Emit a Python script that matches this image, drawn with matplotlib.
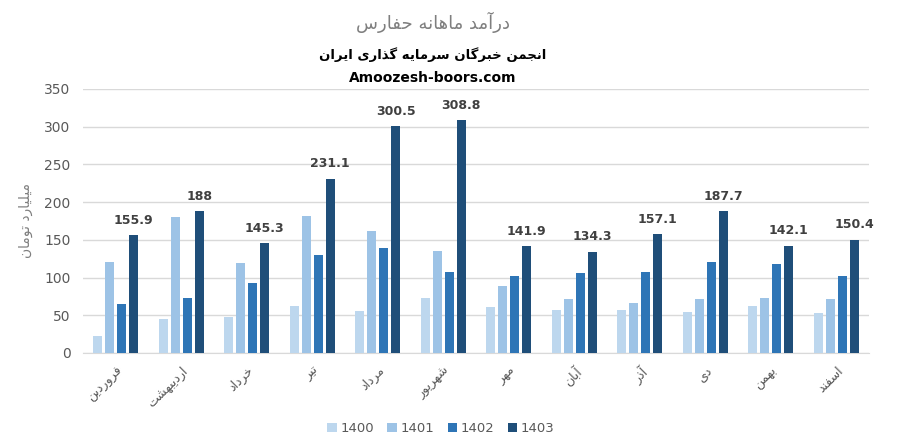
import matplotlib
matplotlib.use('Agg')
import matplotlib.pyplot as plt
import numpy as np

months = ['فروردین', 'اردیبهشت', 'خرداد', 'تیر', 'مرداد', 'شهریور',
          'مهر', 'آبان', 'آذر', 'دی', 'بهمن', 'اسفند']
years = ['1400', '1401', '1402', '1403']
v1400 = [23, 45, 48, 62, 56, 73, 61, 57, 57, 54, 62, 53]
v1401 = [120, 180, 119, 182, 162, 135, 89, 72, 66, 72, 73, 72]
v1402 = [65, 73, 93, 130, 139, 107, 102, 106, 107, 121, 118, 102]
v1403 = [155.9, 188, 145.3, 231.1, 300.5, 308.8, 141.9, 134.3, 157.1, 187.7, 142.1, 150.4]

title1 = 'درآمد ماهانه حفارس'
title2 = 'انجمن خبرگان سرمایه گذاری ایران'
title3 = 'Amoozesh-boors.com'
ylab = 'میلیارد تومان'

mycolors = ['#BDD7EE', '#9DC3E6', '#2E75B6', '#1F4E79']

# minimal arabic/persian shaping: (isolated, final, initial, medial)
forms = {
    'ا': (0xFE8D, 0xFE8E), 'آ': (0xFE81, 0xFE82),
    'ب': (0xFE8F, 0xFE90, 0xFE91, 0xFE92), 'پ': (0xFB56, 0xFB57, 0xFB58, 0xFB59),
    'ت': (0xFE95, 0xFE96, 0xFE97, 0xFE98), 'ج': (0xFE9D, 0xFE9E, 0xFE9F, 0xFEA0),
    'ح': (0xFEA1, 0xFEA2, 0xFEA3, 0xFEA4), 'خ': (0xFEA5, 0xFEA6, 0xFEA7, 0xFEA8),
    'د': (0xFEA9, 0xFEAA), 'ذ': (0xFEAB, 0xFEAC), 'ر': (0xFEAD, 0xFEAE),
    'ز': (0xFEAF, 0xFEB0), 'س': (0xFEB1, 0xFEB2, 0xFEB3, 0xFEB4),
    'ش': (0xFEB5, 0xFEB6, 0xFEB7, 0xFEB8), 'ف': (0xFED1, 0xFED2, 0xFED3, 0xFED4),
    'گ': (0xFB92, 0xFB93, 0xFB94, 0xFB95), 'ک': (0xFB8E, 0xFB8F, 0xFB90, 0xFB91),
    'ل': (0xFEDD, 0xFEDE, 0xFEDF, 0xFEE0),
    'م': (0xFEE1, 0xFEE2, 0xFEE3, 0xFEE4), 'ن': (0xFEE5, 0xFEE6, 0xFEE7, 0xFEE8),
    'و': (0xFEED, 0xFEEE), 'ه': (0xFEE9, 0xFEEA, 0xFEEB, 0xFEEC),
    'ی': (0xFBFC, 0xFBFD, 0xFBFE, 0xFBFF),
}


def shape(s):
    out = []
    for i, c in enumerate(s):
        if c not in forms:
            out.append(c)
            continue
        prev = s[i - 1] if i > 0 else ''
        nxt = s[i + 1] if i + 1 < len(s) else ''
        jp = prev in forms and len(forms[prev]) == 4
        jn = len(forms[c]) == 4 and nxt in forms
        f = forms[c]
        if jp and jn:
            g = f[3]
        elif jp:
            g = f[1]
        elif jn:
            g = f[2]
        else:
            g = f[0]
        out.append(chr(g))
    return ''.join(out)[::-1]


fig = plt.figure(figsize=(9, 4.47), dpi=100)
ax = fig.add_axes([0.0922, 0.2103, 0.8734, 0.5906])

x = np.arange(len(months))
step = 0.183
width = 0.137
series = [v1400, v1401, v1402, v1403]
for i, vals in enumerate(series):
    bars = ax.bar(x + (i - 1.5) * step, vals, width, color=mycolors[i],
                  label=years[i], zorder=3)
    if i == 3:
        for b, v in zip(bars, vals):
            ax.annotate('%g' % v, (b.get_x() + b.get_width() / 2, v),
                        xytext=(0, 6), textcoords='offset points',
                        ha='center', va='bottom', fontsize=9,
                        fontweight='bold', color='#404040')

ax.set_ylim(0, 350)
ax.set_xlim(-0.5, 11.5)
ax.set_yticks(np.arange(0, 351, 50))
ax.yaxis.grid(True, color='#D9D9D9', linewidth=1, zorder=0)
ax.set_xticks(x)
ax.set_xticklabels([shape(m) for m in months], rotation=45, ha='right',
                   va='top', rotation_mode='anchor', fontsize=9, color='#595959')
ax.tick_params(axis='y', labelsize=10, colors='#595959', length=0, pad=9)
ax.tick_params(axis='x', length=0, pad=8)
for sp in ['top', 'right', 'left']:
    ax.spines[sp].set_visible(False)
ax.spines['bottom'].set_color('#D9D9D9')
ax.set_ylabel(shape(ylab), fontsize=10, color='#7F7F7F', labelpad=8)

fig.text(0.481, 0.95, shape(title1), ha='center', va='center',
         fontsize=13, color='#7F7F7F')
fig.text(0.481, 0.878, shape(title2), ha='center', va='center',
         fontsize=9.5, fontweight='bold', color='black')
fig.text(0.481, 0.825, title3, ha='center', va='center',
         fontsize=10, fontweight='bold', color='black')

fig.legend(loc='lower center', bbox_to_anchor=(0.49, 0.0), ncol=4,
           frameon=False, fontsize=9.5, handlelength=0.7, handleheight=0.7,
           handletextpad=0.3, columnspacing=1.0, labelcolor='#595959')

fig.savefig('out.png', dpi=100)
